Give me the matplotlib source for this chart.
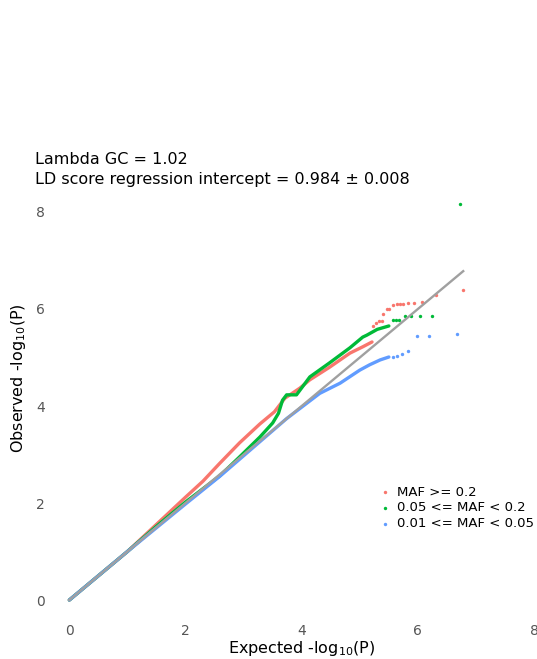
import numpy as np
import matplotlib.pyplot as plt

# colours (ggplot default hues for 3 groups)
col_red = "#F8766D"
col_green = "#00BA38"
col_blue = "#619CFF"

labels = ["MAF >= 0.2", "0.05 <= MAF < 0.2", "0.01 <= MAF < 0.05"]

# dense part of each QQ curve (expected, observed)
red_x = [0, 0.5, 1.0, 1.5, 2.0, 2.3, 2.59, 2.93, 3.28, 3.53, 3.71, 3.97, 4.14, 4.48, 4.83, 5.05, 5.21]
red_y = [0, 0.5, 1.0, 1.56, 2.12, 2.45, 2.82, 3.24, 3.63, 3.88, 4.16, 4.37, 4.54, 4.80, 5.09, 5.22, 5.32]

green_x = [0, 0.5, 1.0, 1.5, 2.0, 2.59, 2.93, 3.28, 3.50, 3.60, 3.67, 3.74, 3.91, 4.14, 4.48, 4.83, 5.05, 5.12, 5.30, 5.50]
green_y = [0, 0.5, 1.0, 1.52, 2.02, 2.56, 2.95, 3.36, 3.65, 3.85, 4.12, 4.23, 4.23, 4.60, 4.89, 5.20, 5.42, 5.46, 5.58, 5.65]

blue_x = [0, 1.0, 2.0, 2.59, 3.16, 3.74, 4.31, 4.66, 5.0, 5.17, 5.35, 5.50]
blue_y = [0, 1.0, 1.98, 2.55, 3.14, 3.74, 4.26, 4.47, 4.74, 4.85, 4.95, 5.01]

# sparse tail points
red_tx = [5.22, 5.28, 5.33, 5.38, 5.40, 5.47, 5.50, 5.57, 5.64, 5.69, 5.74, 5.83, 5.93, 6.07, 6.31, 6.78]
red_ty = [5.65, 5.71, 5.75, 5.75, 5.90, 6.00, 6.00, 6.08, 6.10, 6.10, 6.10, 6.12, 6.12, 6.14, 6.29, 6.39]

green_tx = [5.57, 5.62, 5.67, 5.78, 5.88, 6.03, 6.24, 6.72]
green_ty = [5.77, 5.77, 5.77, 5.86, 5.86, 5.86, 5.86, 8.16]

blue_tx = [5.57, 5.64, 5.72, 5.83, 5.98, 6.19, 6.67]
blue_ty = [5.01, 5.03, 5.07, 5.13, 5.44, 5.44, 5.48]

diag_max = 6.78

W, H = 537, 659
fig = plt.figure(figsize=(W / 100, H / 100), dpi=100)
ax = fig.add_axes([49 / W, (H - 617) / H, (W - 49) / W, (617 - 195) / H])

series = [
    (red_x, red_y, red_tx, red_ty, col_red),
    (green_x, green_y, green_tx, green_ty, col_green),
    (blue_x, blue_y, blue_tx, blue_ty, col_blue),
]
for (dx, dy, tx, ty, c), lab in zip(series, labels):
    ax.plot(dx, dy, color=c, lw=2.4, solid_capstyle="round", zorder=2)
    ax.scatter(tx, ty, s=6, color=c, linewidths=0, zorder=2, label=lab)

ax.plot([0, diag_max], [0, diag_max], color="#a0a0a0", lw=1.7, zorder=3)

ax.set_xlim(-0.35, 8.05)
ax.set_ylim(-0.35, 8.35)
ax.set_xticks([0, 2, 4, 6, 8])
ax.set_yticks([0, 2, 4, 6, 8])
for s in ax.spines.values():
    s.set_visible(False)
ax.tick_params(length=0, labelsize=10, labelcolor="#555555")
ax.tick_params(axis="x", pad=5)
ax.tick_params(axis="y", pad=3)

# axis titles
fig.text(302 / W, 1 - 649 / H, "Expected -log$_{10}$(P)", fontsize=11.5,
         ha="center", va="center")
fig.text(19 / W, 1 - 378 / H, "Observed -log$_{10}$(P)", fontsize=11.5,
         ha="center", va="center", rotation=90)

fig.text(35 / W, 1 - 160 / H, "Lambda GC = 1.02", fontsize=11.5, va="center")
fig.text(35 / W, 1 - 180 / H, "LD score regression intercept = 0.984 \u00b1 0.008",
         fontsize=11.5, va="center")

leg = ax.legend(loc="lower right", bbox_to_anchor=(1.018, 0.178), frameon=False,
                fontsize=9.5, markerscale=1.0, handletextpad=0.4, labelspacing=0.2,
                handlelength=1.0)

fig.savefig("out.png", dpi=100)
